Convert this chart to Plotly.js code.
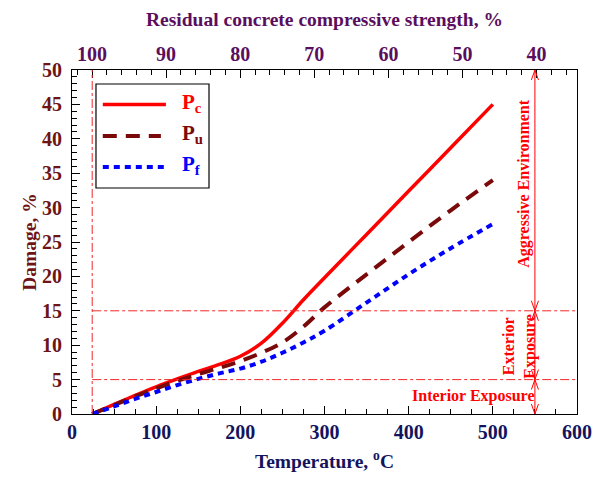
<!DOCTYPE html>
<html>
<head>
<meta charset="utf-8">
<script src="https://cdn.plot.ly/plotly-3.0.1.min.js"></script>
<style>html,body{margin:0;padding:0;background:#fff;}#chart{width:594px;height:478px;}</style>
</head>
<body>
<div id="chart"></div>
<script>
// ---- data ----
var tempPc = [24, 50, 75, 100, 125, 150, 175, 200, 225, 250, 275, 300, 350, 400, 450, 500];
var damagePc = [0, 1.4, 2.7, 3.95, 5.1, 6.2, 7.2, 8.4, 10.3, 13.2, 16.6, 19.8, 26.1, 32.4, 38.7, 45.0];
var tempPu = [24, 50, 75, 100, 125, 150, 175, 200, 225, 250, 275, 300, 350, 400, 450, 500];
var damagePu = [0, 1.3, 2.55, 3.7, 4.8, 5.8, 6.7, 7.7, 8.9, 10.4, 12.7, 15.5, 20.3, 25.0, 29.6, 34.0];
var tempPf = [24, 50, 75, 100, 125, 150, 175, 200, 225, 250, 275, 300, 350, 400, 450, 500];
var damagePf = [0, 1.1, 2.2, 3.2, 4.2, 5.1, 5.9, 6.6, 7.6, 8.9, 10.4, 12.1, 16.2, 20.3, 24.1, 27.6];
var seriesNames = ['P<sub>c</sub>', 'P<sub>u</sub>', 'P<sub>f</sub>'];
var strengthTicks = [100, 90, 80, 70, 60, 50, 40];
var damageTicks = [0, 5, 10, 15, 20, 25, 30, 35, 40, 45, 50];
var baseTemp = 24;
var exposureLimits = [0, 5, 15, 50];
var exposureLabels = ['Interior Exposure', 'Exterior<br>Exposure', 'Aggressive Environment'];
var arrowTemp = 550;

var FONT = 'Liberation Serif, Times New Roman, serif';
var RED = '#ff0000', MAROON = '#7a0a0a', BLUE = '#0000ff';
var THR = '#f02828';

var traces = [
  {x: tempPc, y: damagePc, name: seriesNames[0], mode: 'lines', line: {color: RED, width: 3.5, shape: 'spline', smoothing: 1}, showlegend: false, hoverinfo: 'skip'},
  {x: tempPu, y: damagePu, name: seriesNames[1], mode: 'lines', line: {color: MAROON, width: 4, dash: '14px,9px', shape: 'spline', smoothing: 1}, showlegend: false, hoverinfo: 'skip'},
  {x: tempPf, y: damagePf, name: seriesNames[2], mode: 'lines', line: {color: BLUE, width: 4, dash: '6px,5px', shape: 'spline', smoothing: 1}, showlegend: false, hoverinfo: 'skip'},
  {x: strengthTicks, y: strengthTicks.map(function(){return null;}), xaxis: 'x2', yaxis: 'y', mode: 'lines', showlegend: false, hoverinfo: 'skip'},
  {x: damageTicks.map(function(){return null;}), y: damageTicks, xaxis: 'x', yaxis: 'y3', mode: 'lines', showlegend: false, hoverinfo: 'skip'}
];

var shapes = [
  {type: 'line', xref: 'x', yref: 'y', x0: baseTemp, x1: baseTemp, y0: 0, y1: 50, line: {color: THR, width: 1, dash: 'dashdot'}},
  {type: 'line', xref: 'x', yref: 'y', x0: baseTemp, x1: 600, y0: exposureLimits[1], y1: exposureLimits[1], line: {color: THR, width: 1, dash: 'dashdot'}},
  {type: 'line', xref: 'x', yref: 'y', x0: baseTemp, x1: 600, y0: exposureLimits[2], y1: exposureLimits[2], line: {color: THR, width: 1, dash: 'dashdot'}},
  {type: 'line', xref: 'x', yref: 'y', x0: arrowTemp, x1: arrowTemp, y0: exposureLimits[0], y1: exposureLimits[3], line: {color: RED, width: 1}},
  {type: 'rect', xref: 'paper', yref: 'paper', x0: 0.0475, x1: 0.2713, y0: 0.657, y1: 0.9593, line: {color: '#000', width: 1.2}, fillcolor: 'rgba(0,0,0,0)'},
  {type: 'line', xref: 'paper', yref: 'paper', x0: 0.061, x1: 0.186, y0: 0.9, y1: 0.9, line: {color: RED, width: 3.5}},
  {type: 'line', xref: 'paper', yref: 'paper', x0: 0.061, x1: 0.176, y0: 0.808, y1: 0.808, line: {color: MAROON, width: 4, dash: '14px,9px'}},
  {type: 'line', xref: 'paper', yref: 'paper', x0: 0.061, x1: 0.188, y0: 0.718, y1: 0.718, line: {color: BLUE, width: 4, dash: '6px,5px'}}
];
var hw = 4.2, hh = 1.45;
for (var j = 0; j < exposureLimits.length; j++) {
  var yv = exposureLimits[j];
  if (j > 0) {
    shapes.push({type: 'path', xref: 'x', yref: 'y', path: 'M' + (arrowTemp - hw) + ',' + (yv - hh) + ' L' + arrowTemp + ',' + yv + ' L' + (arrowTemp + hw) + ',' + (yv - hh), line: {color: RED, width: 1}});
  }
  if (j < exposureLimits.length - 1) {
    shapes.push({type: 'path', xref: 'x', yref: 'y', path: 'M' + (arrowTemp - hw) + ',' + (yv + hh) + ' L' + arrowTemp + ',' + yv + ' L' + (arrowTemp + hw) + ',' + (yv + hh), line: {color: RED, width: 1}});
  }
}

var annotations = [];
var legColors = [RED, MAROON, BLUE];
var legY = [0.905, 0.813, 0.723];
for (var i = 0; i < 3; i++) {
  annotations.push({xref: 'paper', yref: 'paper', x: 0.213, y: legY[i], xanchor: 'left', yanchor: 'middle', showarrow: false,
    text: '<b>' + seriesNames[i] + '</b>', font: {family: FONT, size: 21, color: legColors[i]}});
}
annotations.push({xref: 'x', yref: 'y', x: 553, y: 2.6, xanchor: 'right', yanchor: 'middle', showarrow: false,
  text: '<b>' + exposureLabels[0] + '</b>', font: {family: FONT, size: 16, color: RED}});
annotations.push({xref: 'x', yref: 'y', x: 532, y: 9.9, xanchor: 'center', yanchor: 'middle', showarrow: false, textangle: -90,
  text: '<b>' + exposureLabels[1] + '</b>', font: {family: FONT, size: 16, color: RED}});
annotations.push({xref: 'x', yref: 'y', x: 537, y: 33.6, xanchor: 'center', yanchor: 'middle', showarrow: false, textangle: -90,
  text: '<b>' + exposureLabels[2] + '</b>', font: {family: FONT, size: 16, color: RED}});

var layout = {
  width: 594, height: 478,
  margin: {l: 72, r: 17, t: 70, b: 64, pad: 0},
  paper_bgcolor: '#fff', plot_bgcolor: '#fff',
  font: {family: FONT},
  showlegend: false,
  xaxis: {
    range: [0, 600], dtick: 100, tick0: 0, ticks: 'inside', ticklen: 8, tickwidth: 1, tickcolor: '#000',
    minor: {dtick: 25, ticks: 'inside', ticklen: 5, tickwidth: 1, tickcolor: '#000', showgrid: false},
    showgrid: false, zeroline: false, showline: true, linecolor: '#000', linewidth: 1, mirror: false,
    tickfont: {family: FONT, size: 20, color: '#14145e', weight: 'bold'},
    title: {text: '<b>Temperature, <sup>o</sup>C</b>', font: {family: FONT, size: 19.5, color: '#14145e'}, standoff: 12}
  },
  xaxis2: {
    overlaying: 'x', side: 'top', anchor: 'y', range: [102.7, 34.55], dtick: 10, tick0: 100,
    ticks: 'inside', ticklen: 8, tickwidth: 1, tickcolor: '#000',
    minor: {dtick: 2, ticks: 'inside', ticklen: 5, tickwidth: 1, tickcolor: '#000', showgrid: false},
    showgrid: false, zeroline: false, showline: true, linecolor: '#000', linewidth: 1,
    tickfont: {family: FONT, size: 20, color: '#5a0f5e', weight: 'bold'},
    title: {text: '<b>Residual concrete compressive strength, %</b>', font: {family: FONT, size: 19.5, color: '#5a0f5e'}, standoff: 11}
  },
  yaxis: {
    range: [0, 50], dtick: 5, tick0: 0, ticks: 'inside', ticklen: 8, tickwidth: 1, tickcolor: '#000',
    minor: {dtick: 1, ticks: 'inside', ticklen: 5, tickwidth: 1, tickcolor: '#000', showgrid: false},
    showgrid: false, zeroline: false, showline: true, linecolor: '#000', linewidth: 1, mirror: true,
    showticklabels: false
  },
  yaxis3: {
    overlaying: 'y', side: 'left', anchor: 'x', range: [0, 50], dtick: 5, tick0: 0,
    ticks: 'outside', ticklen: 5, tickcolor: 'rgba(0,0,0,0)',
    showgrid: false, zeroline: false, showline: false,
    tickfont: {family: FONT, size: 20, color: '#6e1414', weight: 'bold'},
    title: {text: '<b>Damage, %</b>', font: {family: FONT, size: 19.5, color: '#6e1414'}, standoff: 0}
  },
  shapes: shapes,
  annotations: annotations
};

Plotly.newPlot('chart', traces, layout, {displayModeBar: false, staticPlot: true});
</script>
</body>
</html>
